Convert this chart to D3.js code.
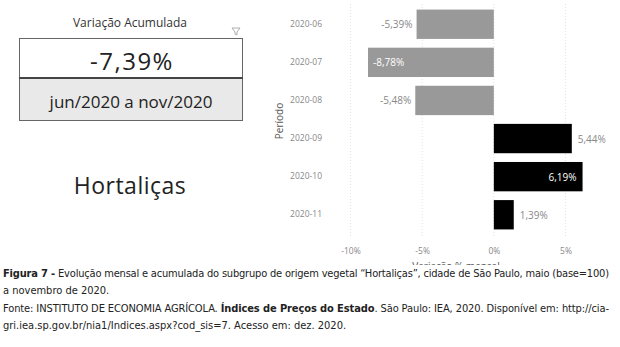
<!DOCTYPE html>
<html><head><meta charset="utf-8">
<script src="https://cdn.jsdelivr.net/npm/d3@7"></script>
<style>body{margin:0;background:#fff}svg{display:block}</style>
</head><body>
<svg id="c" width="620" height="347"></svg>
<script>
const periods = ["2020-06","2020-07","2020-08","2020-09","2020-10","2020-11"];
const values = [-5.39,-8.78,-5.48,5.44,6.19,1.39];
const xTicks = [-10,-5,0,5];
const kpiTitle = "Variação Acumulada";
const kpiValue = "-7,39%";
const kpiRange = "jun/2020 a nov/2020";
const groupName = "Hortaliças";
const yTitle = "Período";
const xTitle = "Variação % mensal";

const svg = d3.select("#c");
const uiFont = "'Open Sans', 'Noto Sans', sans-serif";
const fmt = v => d3.format(".2f")(v).replace("\u2212", "-").replace(".", ",") + "%";

// Left KPI panel
svg.append("text").attr("x",130).attr("y",27).attr("text-anchor","middle")
  .attr("font-family",uiFont).attr("font-size",12).attr("fill","#333").text(kpiTitle);
svg.append("path").attr("d","M232,28 L240,28 L237,32 L237,35 L235,34 L235,32 Z")
  .attr("fill","none").attr("stroke","#999").attr("stroke-width",0.8);
svg.append("rect").attr("x",19.5).attr("y",38.5).attr("width",223).attr("height",40)
  .attr("fill","#fff").attr("stroke","#666").attr("stroke-width",1);
svg.append("rect").attr("x",19.5).attr("y",78.5).attr("width",223).attr("height",42)
  .attr("fill","#e9e9e9").attr("stroke","#666").attr("stroke-width",1);
svg.append("line").attr("x1",19).attr("x2",243).attr("y1",78).attr("y2",78)
  .attr("stroke","#444").attr("stroke-width",2);
svg.append("text").attr("x",132).attr("y",70).attr("text-anchor","middle")
  .attr("font-family",uiFont).attr("font-size",24).attr("letter-spacing",1.5).attr("fill","#222").text(kpiValue);
svg.append("text").attr("x",131).attr("y",108).attr("text-anchor","middle")
  .attr("font-family",uiFont).attr("font-size",17).attr("fill","#222").text(kpiRange);
svg.append("text").attr("x",130).attr("y",194).attr("text-anchor","middle")
  .attr("font-family",uiFont).attr("font-size",23).attr("letter-spacing",0.5).attr("fill","#222").text(groupName);

// Bar chart
const x = d3.scaleLinear().domain([-10, 5]).range([350.5, 565.5]);
const y = d3.scaleBand().domain(periods).range([5, 234]).paddingInner(0.23).paddingOuter(0.12);

const g = svg.append("g");
g.selectAll("line.grid").data(xTicks).join("line")
  .attr("x1",d=>x(d)).attr("x2",d=>x(d)).attr("y1",4).attr("y2",236)
  .attr("stroke","#e2e2e2").attr("stroke-dasharray","1,2");

const xAxis = g.append("g").attr("transform","translate(0,236)")
  .call(d3.axisBottom(x).tickValues(xTicks).tickSize(0).tickPadding(12).tickFormat(d=>d+"%"));
xAxis.select(".domain").remove();
xAxis.selectAll("text").attr("font-family",uiFont).attr("font-size",8.5).attr("fill","#888");

const yAxis = g.append("g").attr("transform","translate(322,0)")
  .call(d3.axisLeft(y).tickSize(0).tickPadding(0));
yAxis.select(".domain").remove();
yAxis.selectAll("text").attr("font-family",uiFont).attr("font-size",8.5).attr("fill","#888");

g.selectAll("rect.bar").data(values).join("rect")
  .attr("x",d=>x(Math.min(0,d))).attr("width",d=>Math.abs(x(d)-x(0)))
  .attr("y",(d,i)=>y(periods[i])).attr("height",y.bandwidth())
  .attr("fill",d=>d<0?"#999999":"#000000");

const plotLeft = 335, plotRight = 612;
g.selectAll("text.lbl").data(values).join("text")
  .each(function(d,i){
    const t = d3.select(this);
    const w = 32;
    const outsideEdge = d<0 ? x(d)-4-w : x(d)+4+w;
    const inside = d<0 ? outsideEdge < plotLeft : outsideEdge > plotRight;
    let xp, anchor;
    if (d<0) { xp = inside ? x(d)+5 : x(d)-4; anchor = inside ? "start" : "end"; }
    else { xp = inside ? x(d)-6 : x(d)+6; anchor = inside ? "end" : "start"; }
    t.attr("x",xp).attr("y",y(periods[i])+y.bandwidth()/2+4)
     .attr("text-anchor",anchor).attr("font-family",uiFont).attr("font-size",10)
     .attr("fill",inside?"#ffffff":"#888").text(fmt(d));
  });

svg.append("text").attr("transform","translate(283,121) rotate(-90)")
  .attr("text-anchor","middle").attr("font-family",uiFont).attr("font-size",10)
  .attr("fill","#555").text(yTitle);
svg.append("text").attr("x",456).attr("y",270).attr("text-anchor","middle")
  .attr("font-family",uiFont).attr("font-size",10).attr("fill","#555").text(xTitle);
svg.append("rect").attr("x",0).attr("y",265).attr("width",620).attr("height",82).attr("fill","#fff");

// Caption
const capFont = "'Liberation Sans Narrow', 'DejaVu Sans Condensed', sans-serif";
const cap = [
  {y:277, len:606, parts:[["Figura 7 - ",true],["Evolução mensal e acumulada do subgrupo de origem vegetal “Hortaliças”, cidade de São Paulo, maio (base=100)",false]]},
  {y:294, len:null, parts:[["a novembro de 2020.",false]]},
  {y:312, len:606, parts:[["Fonte: INSTITUTO DE ECONOMIA AGRÍCOLA. ",false],["Índices de Preços do Estado",true],[". São Paulo: IEA, 2020. Disponível em: http://cia-",false]]},
  {y:329, len:null, parts:[["gri.iea.sp.gov.br/nia1/Indices.aspx?cod_sis=7. Acesso em: dez. 2020.",false]]}
];
cap.forEach(l=>{
  const t = svg.append("text").attr("x",3).attr("y",l.y).attr("font-family",capFont)
    .attr("font-size",11).attr("fill","#222");
  if (l.len) t.attr("textLength",l.len).attr("lengthAdjust","spacing");
  l.parts.forEach(p=>t.append("tspan").attr("font-weight",p[1]?"bold":"normal").text(p[0]));
});
</script>
</body></html>
